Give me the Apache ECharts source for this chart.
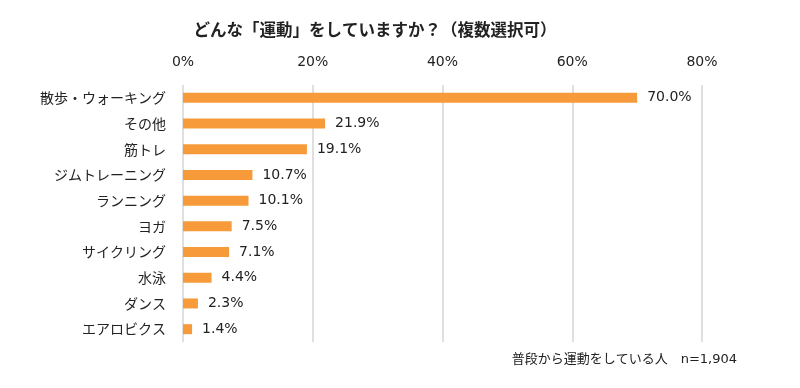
<!DOCTYPE html>
<html><head><meta charset="utf-8">
<script src="https://cdn.jsdelivr.net/npm/echarts@6/dist/echarts.min.js"></script>
<style>html,body{margin:0;padding:0;background:#fff}#c{width:800px;height:388px}</style>
</head><body><div id="c"></div>
<script>
const categories = ['散歩・ウォーキング','その他','筋トレ','ジムトレーニング','ランニング','ヨガ','サイクリング','水泳','ダンス','エアロビクス'];
const values = [70.0, 21.9, 19.1, 10.7, 10.1, 7.5, 7.1, 4.4, 2.3, 1.4];
const titleText = 'どんな「運動」をしていますか？（複数選択可）';
const noteText = '普段から運動をしている人　n=1,904';

const chart = echarts.init(document.getElementById('c'));
chart.setOption({
  animation: false,
  backgroundColor: '#fff',
  title: {
    text: titleText, left: 370, top: 16, textAlign: 'center',
    textStyle: {fontFamily: '"Noto Sans CJK JP"', fontSize: 16.5, fontWeight: 'bold', color: '#222'}
  },
  graphic: [{
    type: 'text', right: 63, top: 353,
    style: {text: noteText, font: '13px "DejaVu Sans", "Noto Sans CJK JP"', fill: '#222'}
  }],
  grid: {left: 183, right: 98, top: 85, bottom: 46, containLabel: false},
  xAxis: {
    type: 'value', position: 'top', min: 0, max: 80, interval: 20,
    axisLine: {show: false}, axisTick: {show: false},
    splitLine: {show: true, lineStyle: {color: '#d4d4d4', width: 1.5}},
    axisLabel: {formatter: '{value}%', margin: 16, fontFamily: '"DejaVu Sans"', fontSize: 14, color: '#222'}
  },
  yAxis: {
    type: 'category', data: categories, inverse: true,
    axisLine: {show: false}, axisTick: {show: false},
    axisLabel: {margin: 17, fontFamily: '"Noto Sans CJK JP"', fontSize: 14, color: '#222'}
  },
  series: [{
    type: 'bar', data: values, barWidth: 10,
    itemStyle: {color: '#F79A3A'},
    label: {show: true, position: 'right', distance: 10,
      formatter: p => p.value.toFixed(1) + '%',
      fontFamily: '"DejaVu Sans"', fontSize: 14, color: '#222'}
  }]
});
</script></body></html>
